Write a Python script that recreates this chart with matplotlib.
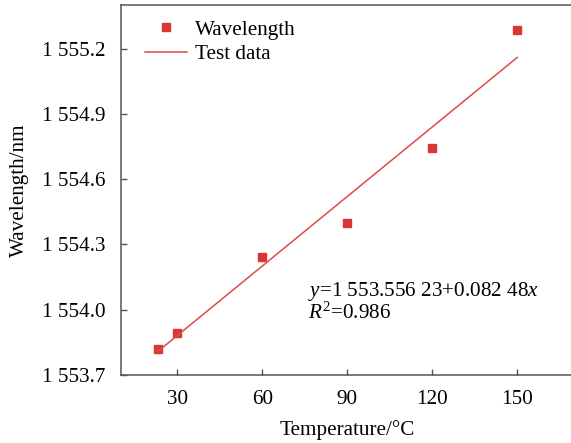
import matplotlib
matplotlib.use("Agg")
import matplotlib.pyplot as plt

# measured points
temp = [23, 30, 60, 90, 120, 150]
wavelength = [1553.82, 1553.894, 1554.242, 1554.398, 1554.742, 1555.287]
# fitted line ends as drawn
fit_x = [23, 150]
fit_y = [1553.807, 1555.159]

xticks = [30, 60, 90, 120, 150]
yticks = [1553.7, 1554.0, 1554.3, 1554.6, 1554.9, 1555.2]
ytick_labels = ["1 553.7", "1 554.0", "1 554.3", "1 554.6", "1 554.9", "1 555.2"]

plt.rcParams["font.family"] = ["Liberation Serif", "DejaVu Serif"]
plt.rcParams["mathtext.fontset"] = "custom"
plt.rcParams["mathtext.rm"] = "Liberation Serif"
plt.rcParams["mathtext.it"] = "Liberation Serif:italic"

FS = 15.2

fig = plt.figure(figsize=(5.71, 4.43), dpi=100)
W, H = 571, 443
ax = fig.add_axes([120.7 / W, 1 - 375 / H, (573.9 - 120.7) / W, (375 - 5) / H])

ax.plot(temp, wavelength, ls="none", marker="s", ms=6.2, color="#d93636", label="Wavelength")
ax.plot(fit_x, fit_y, color="#e04848", lw=1.1, label="Test data")

ax.set_xlim(10, 170)
ax.set_ylim(1553.7, 1555.4)
ax.set_xticks(xticks)
ax.set_yticks(yticks)
ax.set_yticklabels(ytick_labels)
ax.tick_params(direction="in", length=4, width=1, labelsize=FS, color="#555555", pad=11)
for s in ax.spines.values():
    s.set_color("#555555")
    s.set_linewidth(1.1)

ax.set_xlabel("Temperature/\u00b0C", fontsize=FS, labelpad=7.5)
ax.set_ylabel("Wavelength/nm", fontsize=FS, labelpad=9)

ax.text(76, 1554.082, r"$\mathit{y}$=1 553.556 23+0.082 48$\mathit{x}$", fontsize=FS, va="center")
ax.text(76, 1553.986, r"$\mathit{R}^{2}$=0.986", fontsize=FS, va="center")

ax.legend(loc="upper left", frameon=False, fontsize=FS, handlelength=2.0,
          handletextpad=0.4, labelspacing=0.22, borderaxespad=0.3,
          bbox_to_anchor=(0.02, 1.0))

fig.savefig("out.png", dpi=100)
